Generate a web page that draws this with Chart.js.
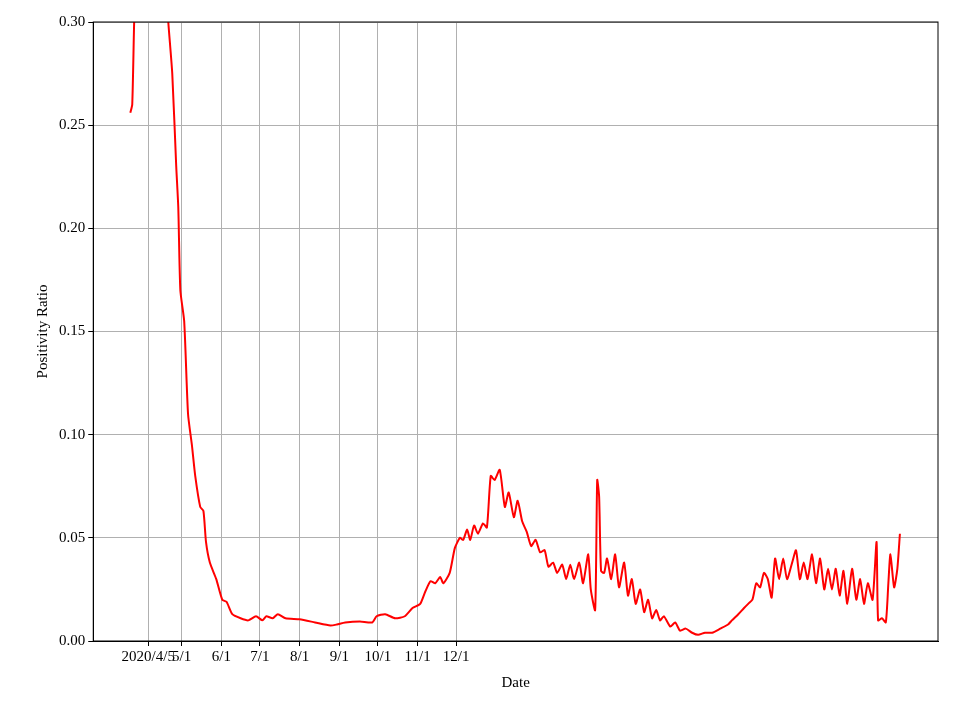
<!DOCTYPE html>
<html><head><meta charset="utf-8">
<script src="https://cdn.jsdelivr.net/npm/chart.js@4/dist/chart.umd.min.js"></script>
<style>body{margin:0;background:#fff}#w{width:960px;height:720px}</style></head>
<body><div id="w"><canvas id="c"></canvas></div>
<script>
// day 0 = 2020-04-05
const tickDays=[0,26,57,87,118,149,179,210,240];
const tickLabels=["2020/4/5","5/1","6/1","7/1","8/1","9/1","10/1","11/1","12/1"];
const days=[-14,-12.5,-11,-5,5,15.6,18.7,21.8,23.4,25,28,31,34,36.6,40.5,43,45,48,53,57.7,61,65.5,72,78,84,89,92,97,101,107,118,130,142,147,153.5,165,174.6,178,184.7,192.5,200,206,212,216,220,223.7,227.6,230,235,239,243,245.5,248.6,251,254,257,261,264,267,270,274,278,281,285,288,291.5,295,298.5,302,305.5,309,312,315.6,318.8,322.7,325.8,329,332,336,339,343,345,348.4,350,351.5,353,355.4,357.7,360.9,364,367,371,374,377,380,383.5,386.6,389.7,392.8,396,399,402,407,410.8,414.6,419,424,428.7,434,439.6,446,452,455,460,464.5,467.7,471,474,477,480,483,486,488.7,491.8,495,498,502,505,508,511,514,517.5,520.6,523.8,527,530,533,536,539,542,545,548.7,552,555,558,561,564.7,567.8,569,572,575,577,578.6,581.5,584,586];
const ratio=[0.256,0.26,0.30,0.42,0.40,0.30,0.275,0.23,0.21,0.17,0.155,0.11,0.095,0.08,0.065,0.063,0.048,0.038,0.03,0.02,0.019,0.013,0.011,0.01,0.012,0.01,0.012,0.011,0.013,0.011,0.0105,0.009,0.0075,0.008,0.009,0.0095,0.009,0.012,0.013,0.011,0.012,0.016,0.018,0.024,0.029,0.028,0.031,0.028,0.033,0.045,0.05,0.049,0.054,0.049,0.056,0.052,0.057,0.055,0.080,0.078,0.083,0.065,0.072,0.06,0.068,0.058,0.053,0.046,0.049,0.043,0.044,0.036,0.038,0.033,0.037,0.03,0.037,0.03,0.038,0.028,0.042,0.025,0.015,0.078,0.07,0.034,0.033,0.04,0.03,0.042,0.026,0.038,0.022,0.03,0.018,0.025,0.014,0.02,0.011,0.015,0.01,0.012,0.007,0.009,0.005,0.006,0.004,0.003,0.004,0.004,0.006,0.008,0.01,0.013,0.016,0.018,0.02,0.028,0.026,0.033,0.03,0.021,0.04,0.03,0.04,0.03,0.038,0.044,0.03,0.038,0.03,0.042,0.028,0.04,0.025,0.035,0.025,0.035,0.022,0.034,0.018,0.035,0.02,0.03,0.018,0.028,0.02,0.048,0.01,0.011,0.009,0.028,0.042,0.026,0.035,0.052];
const yTicks=[0,0.05,0.10,0.15,0.20,0.25,0.30];
Chart.defaults.font.family="'Liberation Serif','Times New Roman',serif";
Chart.defaults.font.size=15;Chart.defaults.color="#000";
const frame={id:'frame',afterDraw(c){const a=c.chartArea,x=c.ctx;x.save();x.strokeStyle='#000';x.lineWidth=1;x.strokeRect(a.left,a.top,a.right-a.left,a.bottom-a.top);x.restore();}};
new Chart(document.getElementById('c'),{type:'line',
data:{datasets:[{data:days.map((d,i)=>({x:d,y:ratio[i]})),borderColor:'#ff0000',borderWidth:2,pointRadius:0,tension:0.2,borderJoinStyle:'round'}]},
options:{responsive:true,maintainAspectRatio:false,animation:false,
layout:{padding:{top:22,right:22,left:30,bottom:24}},
plugins:{legend:{display:false},tooltip:{enabled:false}},
scales:{
x:{type:'linear',min:-42.9,max:615.7,
afterBuildTicks(s){s.ticks=tickDays.map(v=>({value:v}));},
ticks:{autoSkip:false,maxRotation:0,padding:2,callback:(v)=>tickLabels[tickDays.indexOf(v)]},
grid:{color:'#b0b0b0',tickColor:'#000',tickLength:5},border:{color:'#000'},
title:{display:true,text:'Date',font:{size:15},padding:{top:6}}},
y:{min:0,max:0.3,
afterBuildTicks(s){s.ticks=yTicks.map(v=>({value:v}));},
ticks:{callback:v=>v.toFixed(2)},
grid:{color:'#b0b0b0',tickColor:'#000',tickLength:5},border:{color:'#000'},
title:{display:true,text:'Positivity Ratio',font:{size:15}}}}},
plugins:[frame]});
</script></body></html>
